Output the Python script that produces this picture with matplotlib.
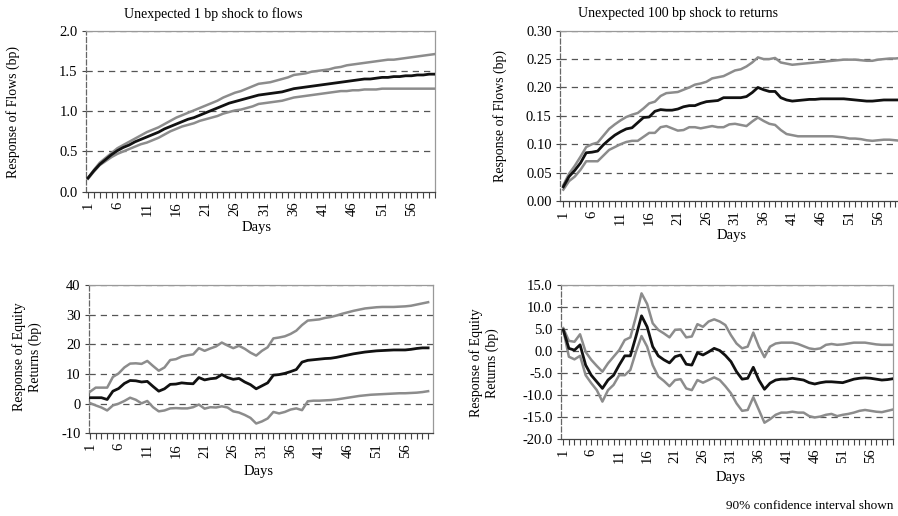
import matplotlib
matplotlib.use("Agg")
import matplotlib.pyplot as plt
import numpy as np

days = list(range(1, 61))
tick_days = list(range(1, 57, 5))

# Panel 1: unexpected 1 bp shock to flows -> response of flows
flow_mean1 = [0.17, 0.26, 0.34, 0.40, 0.46, 0.51, 0.55, 0.58, 0.62, 0.65,
              0.68, 0.71, 0.74, 0.78, 0.81, 0.84, 0.87, 0.90, 0.92, 0.95,
              0.98, 1.01, 1.04, 1.07, 1.10, 1.12, 1.14, 1.16, 1.18, 1.20,
              1.21, 1.22, 1.23, 1.24, 1.26, 1.28, 1.29, 1.30, 1.31, 1.32,
              1.33, 1.34, 1.35, 1.36, 1.37, 1.38, 1.39, 1.40, 1.40, 1.41,
              1.42, 1.42, 1.43, 1.43, 1.44, 1.44, 1.45, 1.45, 1.46, 1.46]
flow_up1 = [0.17, 0.27, 0.36, 0.42, 0.48, 0.54, 0.58, 0.62, 0.66, 0.70,
            0.74, 0.77, 0.80, 0.84, 0.88, 0.92, 0.95, 0.98, 1.01, 1.04,
            1.07, 1.10, 1.13, 1.17, 1.20, 1.23, 1.25, 1.28, 1.31, 1.34,
            1.35, 1.36, 1.38, 1.40, 1.42, 1.45, 1.46, 1.47, 1.49, 1.50,
            1.51, 1.52, 1.54, 1.55, 1.57, 1.58, 1.59, 1.60, 1.61, 1.62,
            1.63, 1.64, 1.64, 1.65, 1.66, 1.67, 1.68, 1.69, 1.70, 1.71]
flow_lo1 = [0.16, 0.25, 0.33, 0.38, 0.43, 0.47, 0.50, 0.53, 0.56, 0.59,
            0.61, 0.64, 0.67, 0.71, 0.75, 0.78, 0.81, 0.83, 0.85, 0.88,
            0.90, 0.92, 0.94, 0.97, 0.99, 1.01, 1.02, 1.04, 1.06, 1.09,
            1.10, 1.11, 1.12, 1.13, 1.15, 1.17, 1.18, 1.19, 1.20, 1.21,
            1.22, 1.23, 1.24, 1.25, 1.25, 1.26, 1.26, 1.27, 1.27, 1.27,
            1.28, 1.28, 1.28, 1.28, 1.28, 1.28, 1.28, 1.28, 1.28, 1.28]

# Panel 2: unexpected 100 bp shock to returns -> response of flows
flow_mean2 = [0.025, 0.043, 0.054, 0.067, 0.085, 0.086, 0.088, 0.099, 0.108, 0.116,
              0.122, 0.127, 0.129, 0.138, 0.147, 0.148, 0.158, 0.161, 0.160, 0.160,
              0.162, 0.166, 0.168, 0.168, 0.172, 0.175, 0.176, 0.177, 0.182, 0.182,
              0.182, 0.182, 0.184, 0.191, 0.200, 0.196, 0.193, 0.193, 0.182, 0.178,
              0.176, 0.177, 0.178, 0.179, 0.179, 0.180, 0.180, 0.180, 0.180, 0.180,
              0.179, 0.178, 0.177, 0.176, 0.176, 0.177, 0.178, 0.178, 0.178, 0.178]
flow_up2 = [0.028, 0.048, 0.062, 0.078, 0.095, 0.100, 0.103, 0.115, 0.127, 0.135,
            0.142, 0.148, 0.152, 0.155, 0.163, 0.172, 0.175, 0.185, 0.190, 0.191,
            0.192, 0.196, 0.200, 0.205, 0.207, 0.210, 0.216, 0.218, 0.220, 0.225,
            0.230, 0.232, 0.237, 0.244, 0.253, 0.250, 0.250, 0.252, 0.244, 0.242,
            0.240, 0.241, 0.242, 0.243, 0.244, 0.245, 0.246, 0.247, 0.248, 0.249,
            0.249, 0.249, 0.248, 0.247, 0.247, 0.249, 0.250, 0.251, 0.251, 0.252]
flow_lo2 = [0.020, 0.035, 0.043, 0.055, 0.070, 0.070, 0.070, 0.080, 0.090, 0.095,
            0.100, 0.104, 0.106, 0.106, 0.113, 0.120, 0.120, 0.130, 0.132, 0.128,
            0.124, 0.125, 0.130, 0.130, 0.128, 0.130, 0.132, 0.130, 0.130, 0.135,
            0.136, 0.134, 0.132, 0.140, 0.147, 0.141, 0.136, 0.134, 0.125, 0.118,
            0.116, 0.114, 0.114, 0.114, 0.114, 0.114, 0.114, 0.114, 0.113, 0.112,
            0.110, 0.110, 0.109, 0.107, 0.106, 0.107, 0.108, 0.108, 0.107, 0.106]

# Panel 3: unexpected 1 bp shock to flows -> response of equity returns
ret_mean3 = [2.0, 2.0, 2.0, 1.4, 4.2, 5.1, 6.8, 7.8, 7.7, 7.3,
             7.5, 5.8, 4.2, 5.0, 6.5, 6.6, 7.0, 6.8, 6.7, 8.8,
             8.0, 8.4, 8.6, 9.8, 8.8, 8.2, 8.5, 7.3, 6.4, 5.0,
             6.0, 7.0, 9.6, 9.8, 10.2, 10.8, 11.5, 14.0, 14.6, 14.8,
             15.0, 15.2, 15.3, 15.6, 16.0, 16.4, 16.8, 17.1, 17.4, 17.6,
             17.8, 17.9, 18.0, 18.1, 18.1, 18.1, 18.3, 18.6, 18.8, 18.8]
ret_up3 = [4.0, 5.4, 5.4, 5.4, 9.0, 10.2, 12.2, 13.5, 13.6, 13.4,
           14.4, 12.7, 11.1, 12.2, 14.7, 15.0, 15.9, 16.3, 16.6, 18.7,
           17.8, 18.6, 19.3, 20.6, 19.6, 18.7, 19.5, 18.5, 17.2, 16.2,
           17.8, 19.0, 22.0, 22.3, 22.7, 23.5, 24.6, 26.5, 28.0, 28.2,
           28.4, 28.9, 29.2, 29.7, 30.3, 30.8, 31.3, 31.7, 32.1, 32.3,
           32.5, 32.6, 32.6, 32.6, 32.7, 32.8, 33.0, 33.4, 33.8, 34.2]
ret_lo3 = [0.2, -0.6, -1.3, -2.3, -0.6, 0.0, 0.9, 2.0, 1.3, 0.1,
           0.9, -1.2, -2.6, -2.3, -1.6, -1.5, -1.6, -1.6, -1.2, -0.3,
           -1.7, -1.2, -1.3, -0.9, -1.3, -2.6, -3.0, -3.8, -4.8, -6.7,
           -6.0, -5.0, -2.8, -3.3, -2.8, -2.0, -1.6, -2.2, 0.8, 1.0,
           1.0, 1.1, 1.2, 1.4, 1.7, 2.0, 2.3, 2.6, 2.8, 3.0,
           3.1, 3.2, 3.3, 3.4, 3.5, 3.5, 3.6, 3.7, 3.9, 4.2]

# Panel 4: unexpected 100 bp shock to returns -> response of equity returns
ret_mean4 = [4.8, 0.6, 0.2, 1.4, -3.2, -5.5, -7.0, -8.5, -6.6, -5.5,
             -3.2, -1.1, -1.1, 3.3, 8.0, 5.5, 1.0, -1.1, -2.0, -2.7,
             -1.3, -0.9, -3.0, -3.2, -0.4, -0.9, -0.2, 0.6, 0.1, -1.0,
             -2.4, -4.7, -6.4, -6.2, -3.7, -6.6, -8.7, -7.3, -6.6, -6.4,
             -6.4, -6.2, -6.4, -6.6, -7.2, -7.5, -7.2, -7.0, -7.0, -7.1,
             -7.2, -6.8, -6.4, -6.2, -6.1, -6.2, -6.4, -6.6, -6.5, -6.3]
ret_up4 = [5.2, 2.3, 2.1, 3.8, -0.2, -2.0, -3.4, -4.7, -2.8, -1.3,
           0.2, 2.5, 3.1, 7.8, 13.1, 10.7, 6.3, 4.8, 4.0, 3.1,
           4.8, 4.9, 3.1, 3.3, 6.1, 5.5, 6.7, 7.2, 6.7, 5.9,
           3.6, 1.7, 0.6, 1.0, 4.2, 1.0, -1.4, 1.0, 1.7, 1.9,
           1.9, 1.9, 1.6, 1.1, 0.6, 0.4, 0.6, 1.4, 1.6, 1.4,
           1.5, 1.7, 1.9, 1.9, 1.9, 1.7, 1.5, 1.4, 1.4, 1.4]
ret_lo4 = [4.8, -1.3, -1.9, -1.1, -5.5, -7.3, -8.9, -11.5, -8.9, -7.7,
           -5.5, -5.5, -4.3, -0.2, 3.4, 1.0, -3.2, -5.8, -6.8, -8.0,
           -6.6, -6.4, -8.5, -8.9, -6.6, -7.2, -6.6, -6.0, -6.6, -8.0,
           -9.6, -11.9, -13.6, -13.4, -10.5, -13.4, -16.3, -15.5, -14.5, -14.0,
           -14.0, -13.8, -14.0, -14.0, -14.8, -15.1, -14.9, -14.5, -14.3, -14.8,
           -14.5, -14.3, -14.0, -13.6, -13.4, -13.6, -13.8, -13.9, -13.6, -13.3]

titles = ["Unexpected 1 bp shock to flows", "Unexpected 100 bp shock to returns"]
footnote = "90% confidence interval shown"

SERIF = ["Liberation Serif", "DejaVu Serif"]
plt.rcParams['font.family'] = SERIF
plt.rcParams['font.size'] = 10

W, H = 898, 516
fig = plt.figure(figsize=(W / 100, H / 100), dpi=100)


def make_ax(x0, x1, y0, y1):
    return fig.add_axes([x0 / W, 1 - y1 / H, (x1 - x0) / W, (y1 - y0) / H])


GRAY = "#8c8c8c"
GRID = "#555555"


def style(ax, xlim, ylim, yticks, fmt):
    ax.set_xlim(*xlim)
    ax.set_ylim(*ylim)
    ax.set_yticks(yticks)
    ax.set_yticklabels([fmt.format(v) for v in yticks])
    ax.set_xticks(tick_days)
    ax.set_xticklabels([str(d) for d in tick_days], rotation=90)
    ax.set_xticks(days, minor=True)
    ax.tick_params(axis='x', which='both', direction='out', length=4,
                   width=0.8, color="#444444", pad=3, labelsize=10.5)
    ax.tick_params(axis='y', direction='out', length=3, width=0.8,
                   color="#444444", pad=3, labelsize=10.5)
    for v in yticks[1:]:
        ax.axhline(v, color=GRID, lw=0.9, ls=(0, (5, 4)), zorder=1)
    ax.spines['top'].set_color("#999999")
    ax.spines['right'].set_color("#999999")
    ax.spines['left'].set_color("#666666")
    ax.spines['left'].set_linestyle((0, (4, 2)))
    ax.spines['bottom'].set_color("#444444")
    for s in ax.spines.values():
        s.set_linewidth(0.9)


def draw(ax, mean, up, lo):
    ax.plot(days, up, color=GRAY, lw=1.8, zorder=3)
    ax.plot(days, lo, color=GRAY, lw=1.8, zorder=3)
    ax.plot(days, mean, color="#111111", lw=2.0, zorder=4)


ax1 = make_ax(86, 435, 30.7, 191.7)
draw(ax1, flow_mean1, flow_up1, flow_lo1)
style(ax1, (0.66, 60), (0, 2.0), [0.0, 0.5, 1.0, 1.5, 2.0], "{:.1f}")

ax2 = make_ax(560, 901, 30.7, 201)
draw(ax2, flow_mean2, flow_up2, flow_lo2)
style(ax2, (0.42, 60), (0, 0.30), [0.0, 0.05, 0.10, 0.15, 0.20, 0.25, 0.30], "{:.2f}")

ax3 = make_ax(89, 432.7, 285, 433.3)
draw(ax3, ret_mean3, ret_up3, ret_lo3)
style(ax3, (0.83, 60.8), (-10, 40), [-10, 0, 10, 20, 30, 40], "{:d}")

ax4 = make_ax(561, 893, 285, 439)
draw(ax4, ret_mean4, ret_up4, ret_lo4)
style(ax4, (0.59, 60), (-20, 15), [-20.0, -15.0, -10.0, -5.0, 0.0, 5.0, 10.0, 15.0], "{:.1f}")


def ftext(x, y, s, **kw):
    fig.text(x / W, 1 - y / H, s, **kw)


ftext(213, 14, titles[0], ha='center', va='center', fontsize=10)
ftext(678, 14, titles[1], ha='center', va='center', fontsize=10)

for (x, y) in [(257, 228), (732, 236), (259, 472), (731, 478)]:
    ftext(x, y, "Days", ha='center', va='center', fontsize=10.5)

ftext(13, 112, "Response of Flows (bp)", ha='center', va='center', rotation=90, fontsize=10)
ftext(500, 116, "Response of Flows (bp)", ha='center', va='center', rotation=90, fontsize=10)
ftext(27, 357, "Response of Equity\nReturns (bp)", ha='center', va='center',
      rotation=90, fontsize=10, linespacing=1.3)
ftext(484, 363, "Response of Equity\nReturns (bp)", ha='center', va='center',
      rotation=90, fontsize=10, linespacing=1.3)

ftext(893, 506, footnote, ha='right', va='center', fontsize=9.5)

fig.savefig("out.png", dpi=100)
